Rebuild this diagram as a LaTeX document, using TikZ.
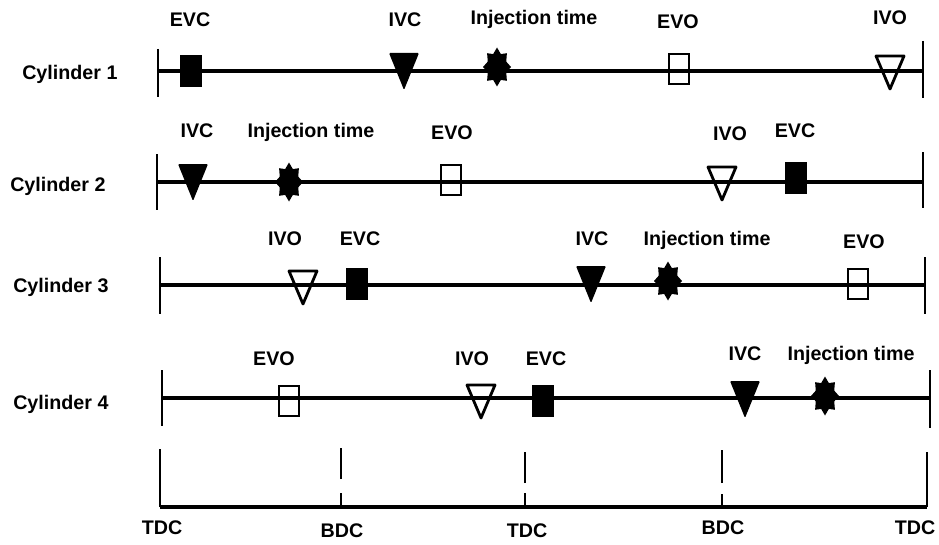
\documentclass[tikz,border=0pt]{standalone}
\usepackage{fontspec}
\setmainfont{Liberation Sans}
\usetikzlibrary{positioning}
\tikzset{
  axis/.style={line width=2.8pt},
  tick/.style={line width=2.1pt},
  lbl/.style={font=\bfseries\fontsize{14}{16}\selectfont, inner sep=0pt, anchor=base},
  cyl/.style={font=\bfseries\fontsize{14}{16}\selectfont, inner sep=0pt, anchor=base west},
  evcmark/.pic={\fill (-11,-16) rectangle (11,16);},
  evomark/.pic={\draw[line width=2pt] (-10,-15) rectangle (10,15);},
  ivcmark/.pic={\fill[rounded corners=0.8pt] (-15,-18) -- (15,-18) -- (0,19) -- cycle;},
  ivomark/.pic={\draw[line width=2pt, line join=round] (-14,-16) -- (14,-16) -- (0,17) -- cycle;},
  injmark/.pic={\fill (90:14 and 19.5) \foreach \k in {0,...,7}{ -- ({112.5+45*\k}:10 and 14) -- ({135+45*\k}:14 and 19.5)} -- cycle;},
}

\begin{document}
\begin{tikzpicture}[x=0.025cm, y=-0.025cm]
  \useasboundingbox (0,0) rectangle (939,545);

  % cylinder 1
  \coordinate (s1) at (158,71);
  \coordinate (e1) at (923,71);
  \node[cyl] (cyl1) at (22,79) {Cylinder 1};
  \draw[axis] (s1) -- (e1);
  \draw[tick] (s1) ++(0,-22) -- ++(0,48);
  \draw[tick] (e1) ++(0,-30) -- ++(0,57);
  \pic at (191,71) {evcmark};
  \pic at (404,71) {ivcmark};
  \pic at (497,67) {injmark};
  \pic at (679,69) {evomark};
  \pic at (890,72) {ivomark};
  \node[lbl] (evc1) at (190,27) {EVC};
  \node[lbl] (ivc1) at (405,27) {IVC};
  \node[lbl] (inj1) at (534,25) {Injection time};
  \node[lbl] (evo1) at (678,29) {EVO};
  \node[lbl] (ivo1) at (890,25) {IVO};

  % cylinder 2
  \coordinate (s2) at (157,182);
  \coordinate (e2) at (923,182);
  \node[cyl] (cyl2) at (10,191) {Cylinder 2};
  \draw[axis] (s2) -- (e2);
  \draw[tick] (s2) ++(0,-28) -- ++(0,56);
  \draw[tick] (e2) ++(0,-30) -- ++(0,56);
  \pic at (193,182) {ivcmark};
  \pic at (289,182) {injmark};
  \pic at (451,180) {evomark};
  \pic at (722,183) {ivomark};
  \pic at (796,178) {evcmark};
  \node[lbl] (ivc2) at (197,137) {IVC};
  \node[lbl] (inj2) at (311,137) {Injection time};
  \node[lbl] (evo2) at (452,139) {EVO};
  \node[lbl] (ivo2) at (730,140) {IVO};
  \node[lbl] (evc2) at (795,137) {EVC};

  % cylinder 3
  \coordinate (s3) at (160,285);
  \coordinate (e3) at (925,285);
  \node[cyl] (cyl3) at (13,292) {Cylinder 3};
  \draw[axis] (s3) -- (e3);
  \draw[tick] (s3) ++(0,-28) -- ++(0,57);
  \draw[tick] (e3) ++(0,-28) -- ++(0,57);
  \pic at (303,287) {ivomark};
  \pic at (357,284) {evcmark};
  \pic at (591,284) {ivcmark};
  \pic at (668,281) {injmark};
  \pic at (858,284) {evomark};
  \node[lbl] (ivo3) at (285,245) {IVO};
  \node[lbl] (evc3) at (360,245) {EVC};
  \node[lbl] (ivc3) at (592,245) {IVC};
  \node[lbl] (inj3) at (707,245) {Injection time};
  \node[lbl] (evo3) at (864,248) {EVO};

  % cylinder 4
  \coordinate (s4) at (162,398);
  \coordinate (e4) at (930,398);
  \node[cyl] (cyl4) at (13,409) {Cylinder 4};
  \draw[axis] (s4) -- (e4);
  \draw[tick] (s4) ++(0,-28) -- ++(0,56);
  \draw[tick] (e4) ++(0,-28) -- ++(0,58);
  \pic at (289,401) {evomark};
  \pic at (481,401) {ivomark};
  \pic at (543,401) {evcmark};
  \pic at (745,399) {ivcmark};
  \pic at (825,396) {injmark};
  \node[lbl] (evo4) at (274,365) {EVO};
  \node[lbl] (ivo4) at (472,365) {IVO};
  \node[lbl] (evc4) at (546,365) {EVC};
  \node[lbl] (ivc4) at (745,360) {IVC};
  \node[lbl] (inj4) at (851,360) {Injection time};

  % crank angle scale
  \coordinate (t0) at (160,507);
  \coordinate (b1) at (341,507);
  \coordinate (t1) at (525,507);
  \coordinate (b2) at (722,507);
  \coordinate (t2) at (927,507);
  \draw[axis] (t0) -- (t2);
  \draw[tick] (t0) -- ++(0,-58);
  \draw[tick] (t2) -- ++(0,-55);
  \draw[tick] (b1) -- ++(0,-14) ++(0,-14) -- ++(0,-31);
  \draw[tick] (t1) -- ++(0,-14) ++(0,-10) -- ++(0,-31);
  \draw[tick] (b2) -- ++(0,-13) ++(0,-11) -- ++(0,-33);
  \node[lbl] (tdc0) at (162,534) {TDC};
  \node[lbl] (bdc1) at (342,537) {BDC};
  \node[lbl] (tdc1) at (527,537) {TDC};
  \node[lbl] (bdc2) at (723,534) {BDC};
  \node[lbl] (tdc2) at (915,534) {TDC};
\end{tikzpicture}
\end{document}
